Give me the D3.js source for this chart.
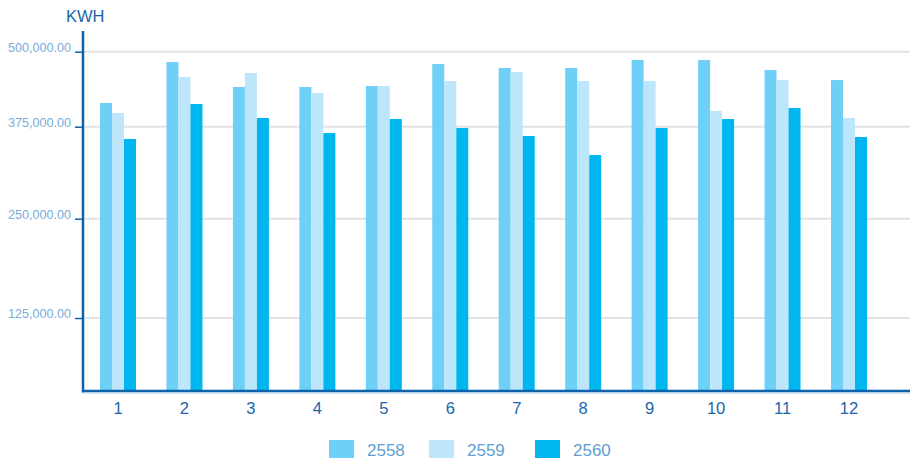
<!DOCTYPE html>
<html>
<head>
<meta charset="utf-8">
<script src="https://cdn.jsdelivr.net/npm/d3@7/dist/d3.min.js"></script>
<style>
  html, body { margin: 0; padding: 0; background: #fff; }
  svg { display: block; font-family: "Liberation Sans", Arial, sans-serif; }
</style>
</head>
<body>
<svg id="chart" width="915" height="458"></svg>
<script>
// ---- data ----
const months = ["1","2","3","4","5","6","7","8","9","10","11","12"];
const seriesNames = ["2558","2559","2560"];
const values2558 = [414500, 482800, 441200, 441200, 442800, 479500, 472800, 472800, 486200, 486200, 469500, 452800];
const values2559 = [397800, 457800, 464500, 431200, 442800, 451200, 466200, 451200, 451200, 401200, 452800, 389500];
const values2560 = [358300, 412800, 389500, 366400, 387800, 373200, 362400, 336500, 373200, 387800, 406200, 361000];
const yTicks = [125000, 250000, 375000, 500000];
const colors = ["#6fd0f7", "#bde6fb", "#00b6ef"];

const seriesValues = [values2558, values2559, values2560];

const svg = d3.select("#chart");
const axisColor = "#0c62ab";

// axis geometry (as drawn in the reference, the value axis is piecewise)
const yScale = d3.scaleLinear()
  .domain([0, 125000, 250000, 375000, 500000])
  .range([391, 318, 218.7, 126.7, 51.7]);

const x0 = d3.scaleBand().domain(months).range([100, 867]).paddingInner(0.458).paddingOuter(0);
const x1 = d3.scaleBand().domain(seriesNames).range([0, x0.bandwidth()]).padding(0);

const plotLeft = 83, plotRight = 910, plotBottom = 391;

// gridlines
svg.append("g").selectAll("line").data(yTicks).join("line")
  .attr("x1", plotLeft).attr("x2", plotRight)
  .attr("y1", d => yScale(d)).attr("y2", d => yScale(d))
  .attr("stroke", "#e2e2e2").attr("stroke-width", 2);

// bars
const groups = svg.append("g").selectAll("g").data(months).join("g")
  .attr("transform", m => `translate(${x0(m)},0)`);
groups.selectAll("rect")
  .data((m, i) => seriesNames.map((s, j) => ({ s, v: seriesValues[j][i], c: colors[j] })))
  .join("rect")
  .attr("x", d => x1(d.s))
  .attr("width", x1.bandwidth())
  .attr("y", d => yScale(d.v))
  .attr("height", d => plotBottom - yScale(d.v))
  .attr("fill", d => d.c);

// y axis
const yAxis = d3.axisLeft(yScale).tickValues(yTicks)
  .tickFormat(d3.format(",.2f")).tickSize(8).tickPadding(4);
const yg = svg.append("g").attr("transform", `translate(${plotLeft},0)`).call(yAxis);
yg.select(".domain").remove();
yg.selectAll(".tick line").attr("stroke", axisColor).attr("stroke-width", 1.5);
yg.selectAll(".tick text").attr("fill", "#78acd9").attr("font-size", 12.6)
  .attr("font-family", "Liberation Sans, Arial, sans-serif").attr("dy", "-0.05em");
svg.append("line").attr("x1", plotLeft).attr("x2", plotLeft).attr("y1", 31).attr("y2", plotBottom + 1.5)
  .attr("stroke", axisColor).attr("stroke-width", 2.5);

// x axis
svg.append("line").attr("x1", plotLeft - 1).attr("x2", plotRight).attr("y1", plotBottom).attr("y2", plotBottom)
  .attr("stroke", axisColor).attr("stroke-width", 2.5);
svg.append("line").attr("x1", plotLeft).attr("x2", plotRight).attr("y1", plotBottom + 2).attr("y2", plotBottom + 2)
  .attr("stroke", "#a9cde9").attr("stroke-width", 1);
svg.append("g").selectAll("text").data(months).join("text")
  .attr("x", m => x0(m) + x0.bandwidth() / 2)
  .attr("y", 414)
  .attr("text-anchor", "middle")
  .attr("fill", "#1c63a8")
  .attr("font-size", 16.5)
  .text(m => m);

// title
svg.append("text").attr("x", 66).attr("y", 21.5).attr("fill", "#1866ad")
  .attr("font-size", 16.5).text("KWH");

// legend
const legendX = [329, 429, 535];
const lg = svg.append("g").selectAll("g").data(seriesNames).join("g")
  .attr("transform", (d, i) => `translate(${legendX[i]},440)`);
lg.append("rect").attr("width", 25).attr("height", 18).attr("fill", (d, i) => colors[i]);
lg.append("text").attr("x", 38).attr("y", 15.5).attr("fill", "#5f9dd3")
  .attr("font-size", 17).text(d => d);
</script>
</body>
</html>
